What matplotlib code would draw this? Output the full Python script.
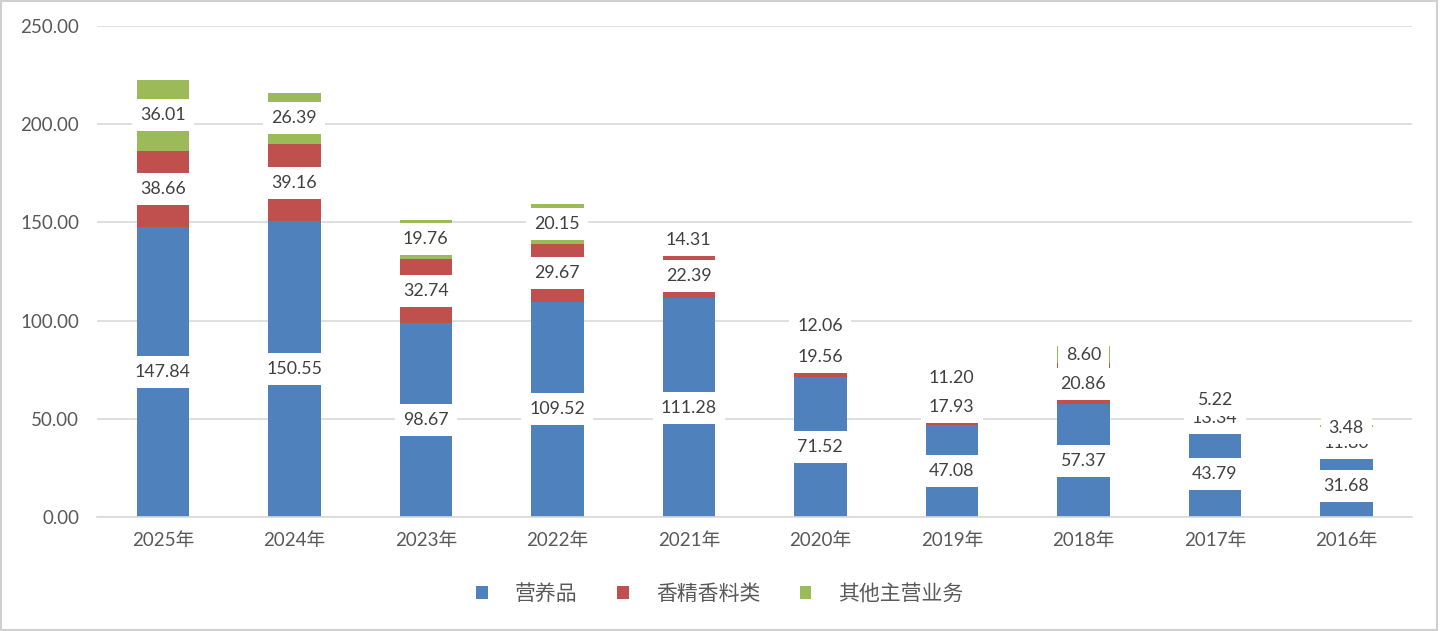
import matplotlib.pyplot as plt
from matplotlib.patches import Rectangle
import numpy as np

plt.rcParams['font.family'] = ['Lato', 'Noto Sans CJK SC', 'DejaVu Sans']

years = ['2025年', '2024年', '2023年', '2022年', '2021年', '2020年', '2019年', '2018年', '2017年', '2016年']
nutrition = [147.84, 150.55, 98.67, 109.52, 111.28, 71.52, 47.08, 57.37, 43.79, 31.68]
flavor = [38.66, 39.16, 32.74, 29.67, 22.39, 19.56, 17.93, 20.86, 13.34, 11.80]
other = [36.01, 26.39, 19.76, 20.15, 14.31, 12.06, 11.20, 8.60, 5.22, 3.48]
series_names = ['营养品', '香精香料类', '其他主营业务']
colors = ['#4F81BD', '#C0504D', '#9BBB59']

fig = plt.figure(figsize=(14.4, 6.31), dpi=100)
ax = fig.add_axes([0.0674, 0.1807, 0.9132, 0.7781])

x = np.arange(len(years))
w = 0.40
bottom = np.zeros(len(years))
containers = []
for vals, name, c in zip([nutrition, flavor, other], series_names, colors):
    bars = ax.bar(x, vals, w, bottom=bottom, color=c, label=name, zorder=2)
    containers.append(bars)
    bottom = bottom + np.array(vals)

box = dict(boxstyle='square,pad=0.45', fc='white', ec='none')
for bars in containers:
    ax.bar_label(bars, fmt='%.2f', label_type='center', fontsize=12.8,
                 color='#404040', bbox=box, zorder=5)

ax.set_xlim(-0.5, len(years) - 0.5)
ax.set_ylim(0, 250)
ax.set_yticks(np.arange(0, 251, 50))
ax.set_yticklabels(['%.2f' % v for v in np.arange(0, 251, 50)])
ax.set_xticks(x)
ax.set_xticklabels(years)
ax.tick_params(axis='both', length=0, labelsize=13.5, labelcolor='#595959')
ax.tick_params(axis='y', pad=13)
ax.tick_params(axis='x', pad=11)
ax.yaxis.grid(True, color='#D9D9D9', linewidth=1.2, zorder=0)
ax.set_axisbelow(True)
for s in ['top', 'right', 'left']:
    ax.spines[s].set_visible(False)
ax.spines['bottom'].set_color('#D9D9D9')
ax.spines['bottom'].set_linewidth(1.2)

fig.legend(loc='center', bbox_to_anchor=(0.5, 0.059), ncol=3, frameon=False,
           fontsize=15, labelcolor='#595959', handlelength=0.55, handleheight=0.55,
           columnspacing=1.9, handletextpad=1.3)

fig.patches.append(Rectangle((0.001, 0.002), 0.997, 0.996, transform=fig.transFigure,
                             fill=False, ec='#D0D0D0', lw=1.5))

fig.savefig('out.png', dpi=100)
